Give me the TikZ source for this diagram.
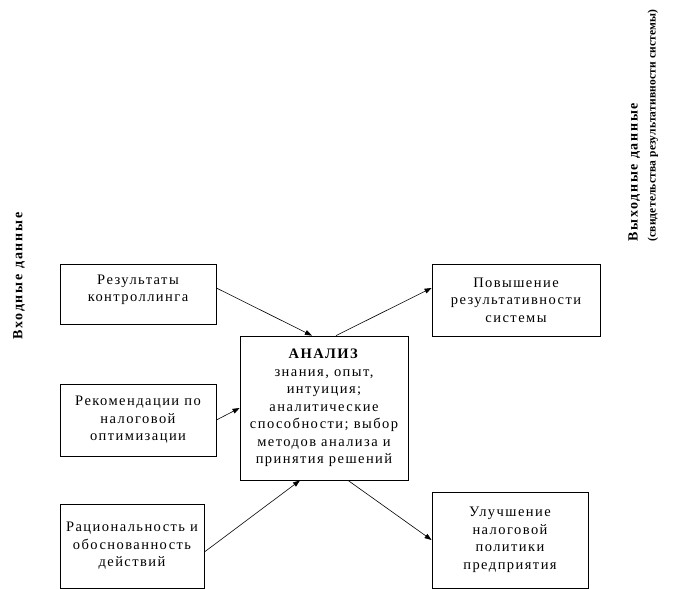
\documentclass[tikz,border=0pt]{standalone}
\usepackage{fontspec}
\setmainfont{Liberation Serif}[LetterSpace=10]
\usetikzlibrary{arrows.meta}

\begin{document}
\begin{tikzpicture}[x=1pt,y=-1pt,
    block/.style={draw,line width=0.8pt,inner sep=0pt,align=center,
        font=\fontsize{14.5}{17.5}\selectfont},
    link/.style={line width=0.6pt,-{Triangle[length=7pt,width=5pt]}},
    side/.style={font=\fontsize{14}{16}\selectfont\bfseries\addfontfeature{LetterSpace=13},rotate=90}]
    \useasboundingbox (0,0) rectangle (673,589);

    % input side
    \node[block,minimum width=156pt,minimum height=60pt] (ctrl) at (138,294)
        {Результаты\\контроллинга\\[-6pt]};
    \node[block,minimum width=156pt,minimum height=72pt] (rec) at (138,420)
        {Рекомендации по\\налоговой\\оптимизации};
    \node[block,minimum width=144pt,minimum height=84pt] (rat) at (132,546)
        {Рациональность и\\обоснованность\\действий};

    % analysis
    \node[block,minimum width=168pt,minimum height=144pt] (analiz) at (324,408)
        {\textbf{АНАЛИЗ}\\знания, опыт,\\интуиция;\\аналитические\\способности; выбор\\методов анализа и\\принятия решений};

    % output side
    \node[block,minimum width=168pt,minimum height=72pt] (perf) at (516,300)
        {Повышение\\результативности\\системы};
    \node[block,minimum width=156pt,minimum height=96pt] (policy) at (510,540)
        {Улучшение\\налоговой\\политики\\предприятия};

    \draw[link] ([yshift=6pt]ctrl.east) -- ([xshift=-12pt]analiz.north);
    \draw[link] (rec.east) -- (analiz.west);
    \draw[link] ([yshift=-6pt]rat.east) -- ([xshift=-24pt]analiz.south);
    \draw[link] ([xshift=12pt]analiz.north) -- ([yshift=12pt]perf.west);
    \draw[link] ([xshift=24pt]analiz.south) -- (policy.west);

    % side labels
    \node[side] (inlbl) at (19,276) {Входные данные};
    \node[side,anchor=north west,font=\fontsize{14}{16}\selectfont\bfseries\addfontfeature{LetterSpace=12}] (outlbl) at (625,245) {Выходные данные};
    \node[side,anchor=north west,font=\fontsize{11.5}{14}\selectfont\bfseries\addfontfeature{LetterSpace=1.5}] (outnote) at (644,245)
        {(свидетельства результативности системы)};
\end{tikzpicture}
\end{document}
